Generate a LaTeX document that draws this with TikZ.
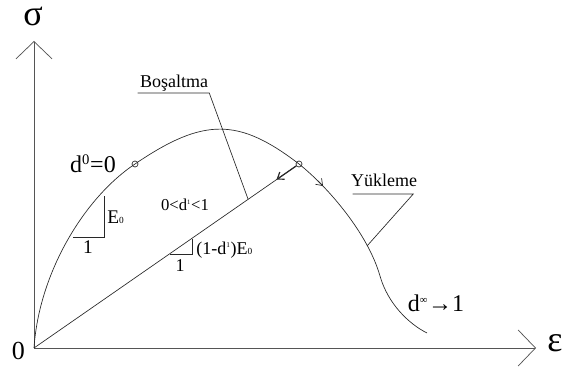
\documentclass[tikz,border=0pt]{standalone}
\usepackage{fontspec}
\setmainfont{Liberation Serif}
\usepackage{tikz}
\usetikzlibrary{arrows.meta, positioning, calc}
\definecolor{axisgray}{RGB}{85,85,85}
\definecolor{inkgray}{RGB}{40,40,40}
\newcommand{\smallsup}[2][6]{\textsuperscript{\fontsize{#1}{#1}\selectfont #2}}
\newcommand{\smallsub}[2][7]{{\fontsize{#1}{#1}\selectfont #2}}

\begin{document}
\begin{tikzpicture}[
  x=0.75pt, y=0.75pt,
  axis/.style={draw=axisgray, line width=0.55pt, -{Straight Barb[length=13pt, width=27pt]}},
  curve/.style={draw=inkgray, line width=0.5pt},
  knot/.style={circle, draw=inkgray, line width=0.5pt, minimum size=4.5pt, inner sep=0pt},
  tip/.style={-{Straight Barb[length=4.5pt, width=6.5pt]}},
  lbl/.style={inner sep=0pt, font=\fontsize{13.5}{15}\selectfont},
  big/.style={inner sep=0pt, font=\fontsize{18}{20}\selectfont},
  greek/.style={inner sep=0pt, anchor=base, font=\fontsize{27}{29}\selectfont}
]
  \useasboundingbox (-34,-23) rectangle (534,348);

  % axes
  \coordinate (O) at (0,0);
  \draw[axis] (O) -- (0,307) coordinate (ytop);
  \draw[axis] (O) -- (502,0) coordinate (xend);
  \node[greek] (sigma) at (-1,322) {σ};
  \node[greek] (eps) at (521,-4) {ε};
  \node[inner sep=0pt, anchor=base, font=\fontsize{19.5}{21}\selectfont] (zero) at (-15.5,-12) {0};

  % loading curve
  \node[knot] (k0) at (101,184) {};
  \node[knot] (k1) at (265,184) {};
  \coordinate (steep) at (346,72);
  \coordinate (tail) at (393,15);
  \draw[curve] (O) .. controls (5,75) and (50,150) .. (k0.center)
    .. controls (170,231) and (205,230) .. (k1.center)
    .. controls (295,160) and (334,114) .. (steep)
    .. controls (354,44) and (375,24) .. (tail);
  \draw[curve, tip] (284,167.2) -- (289,162);

  % unloading line
  \draw[curve] (O) -- (k1);
  \draw[curve, line width=0.9pt, tip] (k1) -- ($(O)!0.915!(k1.center)$);
  \coordinate (bosend) at ($(O)!0.808!(k1.center)$);
  \coordinate (ykend) at (333,102);

  % slope triangles
  \draw[curve] (39,111) -- (70,111) -- (70,152);
  \node[lbl, anchor=west, font=\fontsize{14.5}{16}\selectfont] (e0) at (73,131) {E\smallsub{0}};
  \node[lbl, font=\fontsize{14.5}{16}\selectfont] (one1) at (54,101) {1};
  \draw[curve] (136,94) -- (158,94) -- (158,109);
  \node[lbl, anchor=west] (e1) at (162,98) {(1-d\smallsup[5.5]{1})E\smallsub{0}};
  \node[lbl] (one2) at (146,82) {1};

  % damage states
  \node[big] (dzero) at (59,184) {d\smallsup[11]{0}=0};
  \node[lbl, font=\fontsize{12.5}{14}\selectfont] (dmid) at (151,143) {0<d\smallsup[5]{1}<1};
  \node[big, anchor=base] (dinf) at (402,36) {d\smallsup[8]{∞}→1};

  % leaders
  \node[lbl, anchor=base] (bos) at (140,260) {Boşaltma};
  \draw[curve] ($(bos.base west)+(-2,-5)$) -- ($(bos.base east)+(1,-5)$) -- (bosend);
  \node[lbl, anchor=base] (yuk) at (350,161) {Yükleme};
  \draw[curve] ($(yuk.base west)+(2,-7)$) -- ($(yuk.base east)+(-4,-7)$) -- (ykend);
\end{tikzpicture}
\end{document}
